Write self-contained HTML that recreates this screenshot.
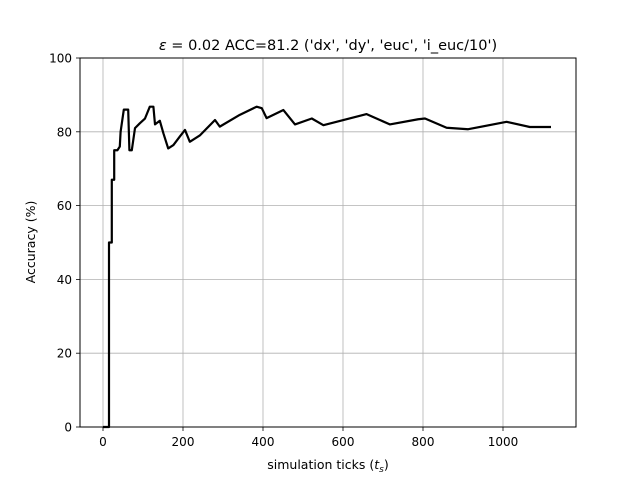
<!DOCTYPE html>
<html><head><meta charset="utf-8"><style>
body{margin:0;background:#fff}
svg{display:block;font-family:"DejaVu Sans","Liberation Sans",sans-serif}
</style></head><body>
<svg width="640" height="480" id="c">
<rect width="640" height="480" fill="#fff"/>
<g id="grid"></g>
<g id="ticks"></g>
<path id="line" fill="none" stroke="#000" stroke-width="2.2" stroke-linejoin="round"/>
<rect x="80" y="58" width="496" height="369" fill="none" stroke="#000" stroke-width="1"/>
<text x="328" y="50" text-anchor="middle" font-size="14.5"><tspan font-style="italic">ε</tspan> = 0.02 ACC=81.2 ('dx', 'dy', 'euc', 'i_euc/10')</text>
<text x="328" y="469" text-anchor="middle" font-size="12.5">simulation ticks (<tspan font-style="italic">t</tspan><tspan font-style="italic" font-size="9" dy="3">s</tspan><tspan dy="-3">)</tspan></text>
<text transform="translate(35,242) rotate(-90)" text-anchor="middle" font-size="12.5">Accuracy (%)</text>
</svg>
<script>
const xTicks=[0,200,400,600,800,1000];
const yTicks=[0,20,40,60,80,100];
const tsteps=[0,15,15,22,22,28,28,36,42,44,52,63,66,72,80,92,105,117,126,130,142,151,163,176,192,205,217,242,280,292,342,384,397,409,451,480,522,551,659,717,788,805,859,913,1009,1067,1120];
const acc=[0,0,50,50,67,67,75,75,76,80,86,86,75,75,81,82.3,83.6,86.8,86.8,82,83,79.6,75.5,76.4,78.7,80.5,77.3,79,83.2,81.4,84.6,86.8,86.4,83.7,85.9,82,83.6,81.8,84.8,82,83.4,83.6,81.1,80.7,82.7,81.3,81.3];
const X=v=>103+v*0.4, Y=v=>427-v*3.69;
const ns="http://www.w3.org/2000/svg";
const grid=document.getElementById('grid'), tk=document.getElementById('ticks');
function mk(tag,at,par){const e=document.createElementNS(ns,tag);for(const k in at)e.setAttribute(k,at[k]);par.appendChild(e);return e;}
xTicks.forEach(v=>{
 const g=mk('line',{x1:X(v),x2:X(v),y1:58,y2:427,stroke:'#b0b0b0','stroke-width':0.8},grid);
 
 
 mk('line',{x1:X(v),x2:X(v),y1:427,y2:431,stroke:'#000','stroke-width':0.8},tk);
 const t=mk('text',{x:X(v),y:446,'text-anchor':'middle','font-size':'12'},tk);t.textContent=v;
 
 
});
yTicks.forEach(v=>{
 const g=mk('line',{x1:80,x2:576,y1:Y(v),y2:Y(v),stroke:'#b0b0b0','stroke-width':0.8},grid);
 
 
 mk('line',{x1:76,x2:80,y1:Y(v),y2:Y(v),stroke:'#000','stroke-width':0.8},tk);
 const t=mk('text',{x:72,y:Y(v)+4.5,'text-anchor':'end','font-size':'12'},tk);t.textContent=v;
 
 
});
let d='M'+X(tsteps[0])+','+Y(acc[0]);
for(let i=1;i<tsteps.length;i++){d+=' L'+X(tsteps[i])+','+Y(acc[i]);}
document.getElementById('line').setAttribute('d',d);
</script>
</body></html>
